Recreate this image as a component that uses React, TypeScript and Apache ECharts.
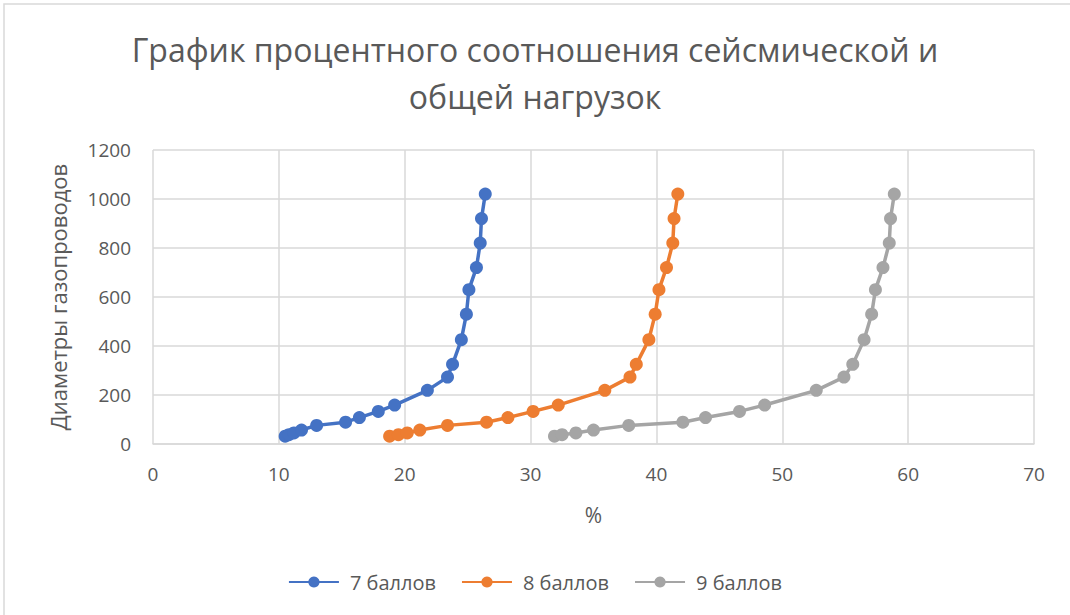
import React, { useEffect, useRef } from "react";
import * as echarts from "echarts";

const diameters = [32, 38, 45, 57, 76, 89, 108, 133, 159, 219, 273, 325, 426, 530, 630, 720, 820, 920, 1020];
const pct7 = [10.5, 10.8, 11.2, 11.8, 13.0, 15.3, 16.4, 17.9, 19.2, 21.8, 23.4, 23.8, 24.5, 24.9, 25.1, 25.7, 26.0, 26.1, 26.4];
const pct8 = [18.8, 19.5, 20.2, 21.2, 23.4, 26.5, 28.2, 30.2, 32.2, 35.9, 37.9, 38.4, 39.4, 39.9, 40.2, 40.8, 41.3, 41.4, 41.7];
const pct9 = [31.9, 32.5, 33.6, 35.0, 37.8, 42.1, 43.9, 46.6, 48.6, 52.7, 54.9, 55.6, 56.5, 57.1, 57.4, 58.0, 58.5, 58.6, 58.9];
const seriesNames = ["7 баллов", "8 баллов", "9 баллов"];
const colors = ["#4472C4", "#ED7D31", "#A5A5A5"];

export default function App() {
  const ref = useRef<HTMLDivElement>(null);
  useEffect(() => {
    document.body.style.margin = "0";
    const chart = echarts.init(ref.current!, null, { renderer: "svg" });
    const font = "'Open Sans', 'Noto Sans', sans-serif";
    const allPct = [pct7, pct8, pct9];
    chart.setOption({
      animation: false,
      backgroundColor: "#ffffff",
      textStyle: { fontFamily: font },
      title: {
        text: "График процентного соотношения сейсмической и\nобщей нагрузок",
        left: "center",
        top: 21,
        textStyle: { fontSize: 32, fontWeight: "normal", color: "#595959", lineHeight: 47, fontFamily: font },
      },
      grid: { left: 153, right: 36, top: 150, bottom: 171 },
      legend: {
        bottom: 18,
        left: "center",
        itemWidth: 50,
        itemHeight: 14,
        itemGap: 25,
        textStyle: { fontSize: 20, color: "#595959", padding: [0, 0, 0, 6] },
        data: seriesNames,
      },
      xAxis: {
        type: "value",
        min: 0,
        max: 70,
        interval: 10,
        name: "%",
        nameLocation: "middle",
        nameGap: 60,
        nameTextStyle: { fontSize: 21, color: "#595959" },
        axisLine: { lineStyle: { color: "#d9d9d9", width: 1.5 } },
        axisTick: { show: false },
        axisLabel: { fontSize: 19, color: "#595959", margin: 20 },
        splitLine: { lineStyle: { color: "#d9d9d9", width: 1.5 } },
      },
      yAxis: {
        type: "value",
        min: 0,
        max: 1200,
        interval: 200,
        name: "Диаметры газопроводов",
        nameLocation: "middle",
        nameGap: 84,
        nameTextStyle: { fontSize: 22, color: "#595959" },
        axisLine: { show: false },
        axisTick: { show: false },
        axisLabel: { fontSize: 19, color: "#595959", margin: 22, formatter: (v: number) => String(v) },
        splitLine: { lineStyle: { color: "#d9d9d9", width: 1.5 } },
      },
      series: seriesNames.map((name, i) => ({
        name,
        type: "line",
        data: allPct[i].map((p, j) => [p, diameters[j]]),
        symbol: "circle",
        symbolSize: 13,
        lineStyle: { width: 3.5, color: colors[i] },
        itemStyle: { color: colors[i] },
      })),
      graphic: [
        {
          type: "rect",
          shape: { x: 4, y: 4, width: 1080, height: 620 },
          style: { fill: "none", stroke: "#d9d9d9", lineWidth: 1.5 },
          silent: true,
          z: -1,
        },
      ],
    });
    return () => chart.dispose();
  }, []);
  return <div ref={ref} style={{ width: 1070, height: 615 }} />;
}
